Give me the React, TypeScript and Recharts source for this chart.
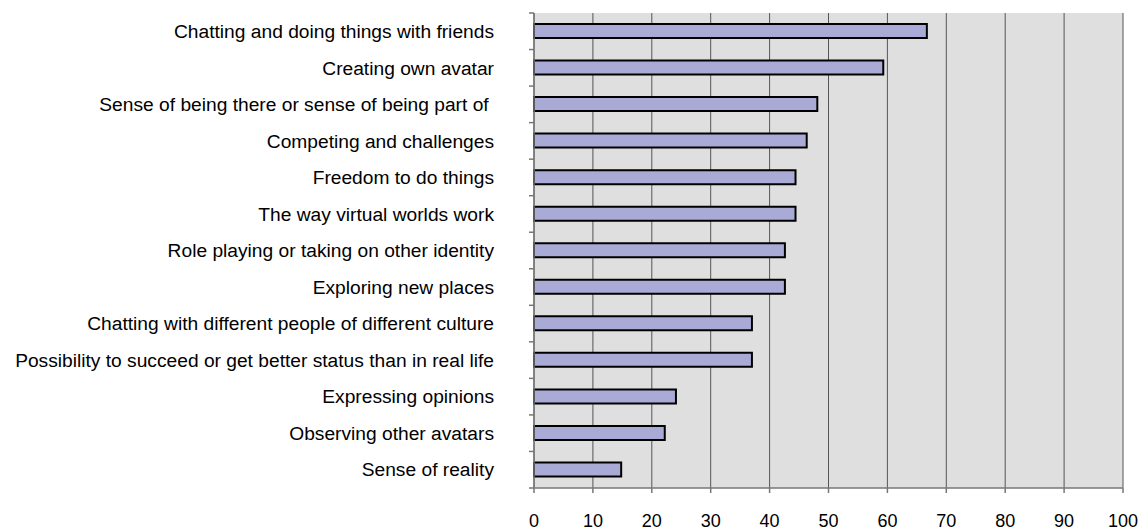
import React from "react";
import { BarChart, Bar, XAxis, YAxis, CartesianGrid } from "recharts";

const categories = [
  "Chatting and doing things with friends",
  "Creating own avatar",
  "Sense of being there or sense of being part of\u00A0",
  "Competing and challenges",
  "Freedom to do things",
  "The way virtual worlds work",
  "Role playing or taking on other identity",
  "Exploring new places",
  "Chatting with different people of different culture",
  "Possibility to succeed or get better status than in real life",
  "Expressing opinions",
  "Observing other avatars",
  "Sense of reality",
];

const values = [66.7, 59.3, 48.1, 46.3, 44.4, 44.4, 42.6, 42.6, 37.0, 37.0, 24.1, 22.2, 14.8];

const xTicks = [0, 10, 20, 30, 40, 50, 60, 70, 80, 90, 100];

const data = categories.map((name, i) => ({ name, value: values[i] }));

const W = 1146;
const H = 531;
const X_AXIS_H = 43;
const M = { top: 13, right: 23, left: 0, bottom: 0 };
const Y_AXIS_W = 534;
const TICK = 5;
const Y_MARGIN = 35;
const band = (H - M.top - X_AXIS_H) / categories.length;
const font = "'Liberation Sans', Arial, sans-serif";

function CategoryTick(props: any) {
  const { x, y, payload, index } = props;
  const axisX = x + TICK + Y_MARGIN;
  const last = index === categories.length - 1;
  return (
    <g>
      <line x1={axisX - TICK} x2={axisX} y1={y - band / 2} y2={y - band / 2} stroke="#777" strokeWidth={1.5} />
      {last && (
        <line x1={axisX - TICK} x2={axisX} y1={y + band / 2} y2={y + band / 2} stroke="#777" strokeWidth={1.5} />
      )}
      <text x={x} y={y} dy="0.35em" textAnchor="end" fontSize={19.2} fill="#000" fontFamily={font}>
        {payload.value}
      </text>
    </g>
  );
}

export default function App() {
  return (
    <div style={{ width: W, height: H }}>
      <style>{"body{margin:0}"}</style>
      <BarChart width={W} height={H} data={data} layout="vertical" margin={M} barCategoryGap={0}>
        <CartesianGrid horizontal={false} stroke="#555" fill="#dfdfdf" />
        <XAxis
          type="number"
          domain={[0, 100]}
          ticks={xTicks}
          interval={0}
          tickSize={TICK}
          tickMargin={21}
          stroke="#777"
          strokeWidth={1.5}
          tick={{ fontSize: 18, fill: "#000", fontFamily: font }}
          height={X_AXIS_H}
        />
        <YAxis
          type="category"
          dataKey="name"
          width={Y_AXIS_W}
          interval={0}
          tickSize={TICK}
          tickMargin={Y_MARGIN}
          tickLine={false}
          stroke="#777"
          strokeWidth={1.5}
          tick={<CategoryTick />}
        />
        <Bar dataKey="value" fill="#aaaad6" stroke="#000" strokeWidth={2} barSize={14} isAnimationActive={false} />
      </BarChart>
    </div>
  );
}
